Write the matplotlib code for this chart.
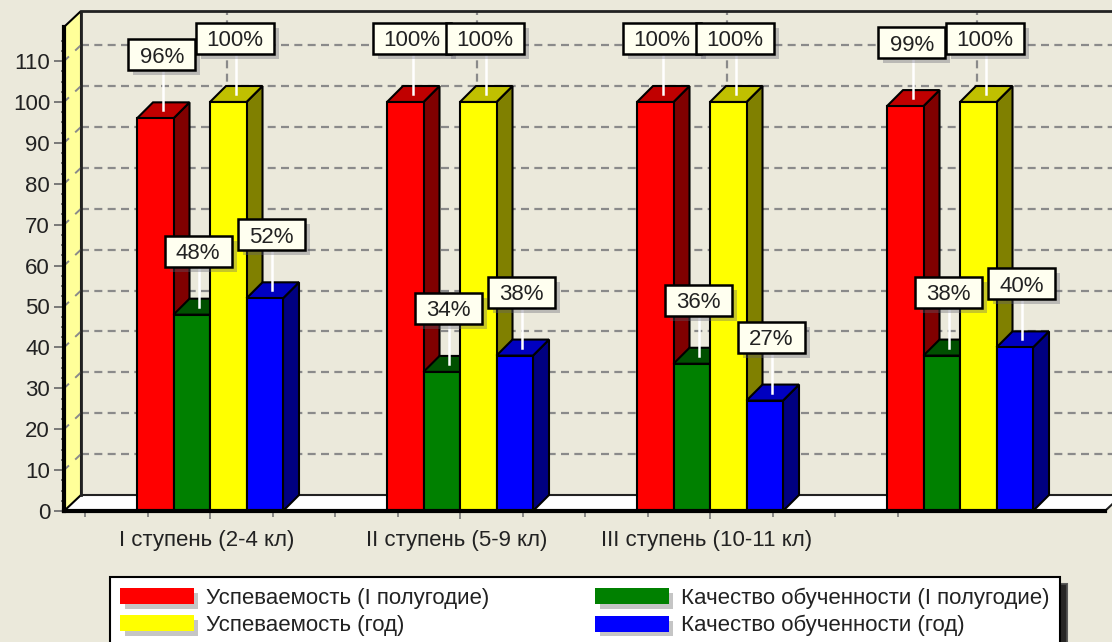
import matplotlib
matplotlib.use("Agg")
import matplotlib.pyplot as plt
from matplotlib.patches import Polygon, Rectangle, Patch
import matplotlib.patheffects as pe
import numpy as np

plt.rcParams['font.family'] = ['Liberation Sans', 'DejaVu Sans']

categories = ["I ступень (2-4 кл)", "II ступень (5-9 кл)", "III ступень (10-11 кл)", ""]
series_names = ["Успеваемость (I полугодие)", "Качество обученности (I полугодие)",
                "Успеваемость (год)", "Качество обученности (год)"]
uspev_1 = [96, 100, 100, 99]
kach_1 = [48, 34, 36, 38]
uspev_god = [100, 100, 100, 100]
kach_god = [52, 38, 27, 40]
series = [uspev_1, kach_1, uspev_god, kach_god]
front_colors = ["#FF0000", "#008000", "#FFFF00", "#0000FF"]
side_colors = ["#800000", "#004000", "#808000", "#000080"]
top_colors = ["#C00000", "#005000", "#C0C000", "#0000C0"]

BG = "#EBE9DB"
FS = 16.0
W, H = 1112, 642
PX_X = 1 / 250          # category units per pixel
PX_Y = 1 / 4.09         # value units per pixel
L_PX, R_PX, B_PX, T_PX, C0_PX = 64, 1105, 511, 27, 210

fig = plt.figure(figsize=(W / 100, H / 100), dpi=100, facecolor=BG)
ax = fig.add_axes([L_PX / W, (H - B_PX) / H, (R_PX - L_PX) / W, (B_PX - T_PX) / H])
ax.set_facecolor("none")
x0, x1 = (L_PX - C0_PX) * PX_X, (R_PX - C0_PX) * PX_X
y1 = (B_PX - T_PX) * PX_Y
ax.set_xlim(x0, x1)
ax.set_ylim(0, y1)

wall_dx, wall_dy = 17 * PX_X, 16 * PX_Y
bar_dx, bar_dy = 16 * PX_X, 16 * PX_Y
bar_w = 36.5 * PX_X

# walls and floor
ax.add_patch(Polygon([(x0, 0), (x1, 0), (x1 + wall_dx, wall_dy), (x0 + wall_dx, wall_dy)],
                     fc="white", ec="none", clip_on=False, zorder=1))
ax.plot([x1, x1 + wall_dx], [0, wall_dy], color="#222", lw=1.5, clip_on=False, zorder=1.3)
ax.add_patch(Polygon([(x0, 0), (x0 + wall_dx, wall_dy), (x0 + wall_dx, y1 + wall_dy), (x0, y1)],
                     fc="#FFFF99", ec="black", lw=1.5, clip_on=False, zorder=1.2))
ax.plot([x0 + wall_dx, x1 + wall_dx * 2], [wall_dy, wall_dy], color="#222", lw=1.5, clip_on=False, zorder=1.3)
ax.plot([x0 + wall_dx, x0 + wall_dx, x1 + wall_dx * 2], [wall_dy, y1 + wall_dy, y1 + wall_dy],
        color="#222", lw=2, clip_on=False, zorder=1.3)

# grid on the back wall
GRID_C = "#8A8A8A"
grid_values = np.arange(10, 111, 10)
for v in grid_values:
    ax.plot([x0 + wall_dx, x1 + wall_dx * 2], [v + wall_dy, v + wall_dy], color=GRID_C, lw=1.6,
            dashes=(3.6, 2.4), clip_on=False, zorder=1.1)
    ax.plot([x0 + wall_dx * 0.7, x0 + wall_dx], [v + wall_dy * 0.7, v + wall_dy], color=GRID_C,
            lw=1.4, clip_on=False, zorder=1.25)
    ax.plot([x0, x0 + wall_dx * 0.25], [v, v + wall_dy * 0.25], color=GRID_C, lw=1.4,
            clip_on=False, zorder=1.25)
positions = np.arange(len(categories))
for p in positions:
    ax.plot([p + wall_dx, p + wall_dx], [wall_dy, y1 + wall_dy], color=GRID_C, lw=1.6,
            dashes=(3.6, 2.4), clip_on=False, zorder=1.1)

# bars
z = 2.0
for g in positions:
    for i, vals in enumerate(series):
        v = vals[g]
        left = g + (i - 2) * bar_w
        right = left + bar_w
        ax.bar(left, v, width=bar_w, align="edge", color=front_colors[i], edgecolor="black",
               linewidth=1.5, zorder=z + 0.02, clip_on=False)
        ax.add_patch(Polygon([(right, 0), (right + bar_dx, bar_dy), (right + bar_dx, v + bar_dy), (right, v)],
                             fc=side_colors[i], ec="black", lw=1.5, zorder=z, clip_on=False))
        ax.add_patch(Polygon([(left, v), (left + bar_dx, v + bar_dy), (right + bar_dx, v + bar_dy), (right, v)],
                             fc=top_colors[i], ec="black", lw=1.5, zorder=z + 0.01, clip_on=False))
        z += 0.1

# value labels
box_h = 31 * PX_Y
gap = 48 * PX_Y
for g in positions:
    for i, vals in enumerate(series):
        v = vals[g]
        label = f"{v}%"
        cx = g + (i - 2) * bar_w + bar_w / 2 + 6.5 * PX_X
        box_w = (78 if v >= 100 else 67) * PX_X
        z_lab = 10 + g + i * 0.1
        ax.plot([cx + 1 * PX_X, cx + 1 * PX_X], [v + 8 * PX_Y, v + gap], color="white", lw=1.8,
                zorder=z_lab, clip_on=False)
        ax.add_patch(Rectangle((cx - box_w / 2 + 5 * PX_X, v + gap - 5 * PX_Y), box_w, box_h,
                               fc="#606070", alpha=0.35, ec="none", zorder=z_lab + 0.01, clip_on=False))
        ax.add_patch(Rectangle((cx - box_w / 2, v + gap), box_w, box_h, fc="#FFFFF0", ec="black",
                               lw=1.8, zorder=z_lab + 0.02, clip_on=False))
        ax.text(cx, v + gap + box_h / 2, label, ha="center", va="center_baseline", fontsize=FS,
                color="#222222", zorder=z_lab + 0.03, clip_on=False)

# axes
for s in ("top", "right"):
    ax.spines[s].set_visible(False)
for s in ("left", "bottom"):
    ax.spines[s].set_linewidth(3)
    ax.spines[s].set_color("black")
    ax.spines[s].set_zorder(9)
ax.set_yticks(np.arange(0, 111, 10))
ax.set_yticks(np.arange(0, 117, 2.5), minor=True)
ax.set_xticks(positions[:3], categories[:3])
ax.set_xticks([t for t in np.arange(-0.5, 2.8, 0.25) if t not in (0, 1, 2)], minor=True)
ax.tick_params(axis="y", which="major", length=7, width=1.3, color="#707070", labelsize=FS,
               labelcolor="#222222", pad=3)
ax.tick_params(axis="y", which="minor", length=2, width=1.3, color="#707070")
ax.tick_params(axis="x", which="major", length=6, width=1.3, color="#808080", labelsize=FS,
               labelcolor="#222222", pad=8)
ax.tick_params(axis="x", which="minor", length=4, width=1.3, color="#808080")
for lab in ax.get_xticklabels():
    lab.set_transform(lab.get_transform() + matplotlib.transforms.ScaledTranslation(-3 / 100, 0, fig.dpi_scale_trans))

# legend
shadow = [pe.SimplePatchShadow(offset=(3.5, -3.5), shadow_rgbFace="#808080", alpha=0.45), pe.Normal()]
handles = [Patch(facecolor=front_colors[i], edgecolor="none", label=series_names[i], path_effects=shadow)
           for i in [0, 2, 1, 3]]
leg = fig.legend(handles=handles, ncols=2, loc="upper left",
                 bbox_to_anchor=(110 / W, 1 - 577 / H), bbox_transform=fig.transFigure,
                 frameon=True, fancybox=False, edgecolor="black", facecolor="white", framealpha=1,
                 fontsize=16.0, handlelength=3.3, handleheight=0.72, handletextpad=0.58,
                 columnspacing=4.75, labelspacing=0.3, borderpad=0.46, borderaxespad=0,
                 labelcolor="#222222",
                 shadow={"ox": 5, "oy": -5, "facecolor": "#111111", "alpha": 0.9})
leg.get_frame().set_linewidth(1.5)
leg.set_zorder(20)

fig.savefig("out.png", dpi=100, facecolor=BG)
